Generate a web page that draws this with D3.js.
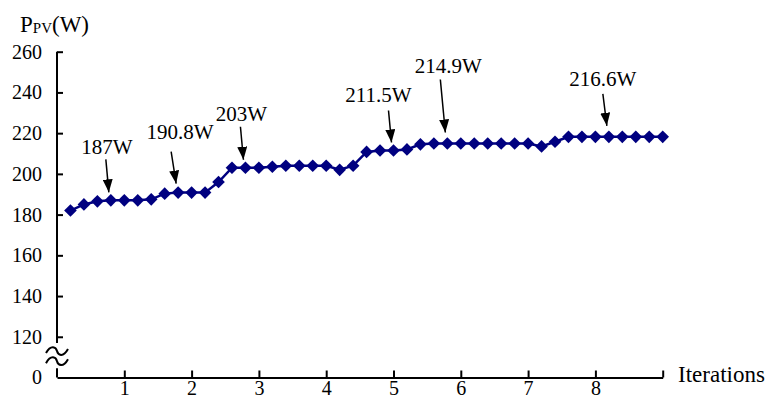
<!DOCTYPE html>
<html>
<head>
<meta charset="utf-8">
<script src="https://cdn.jsdelivr.net/npm/d3@7"></script>
<style>
  body { margin: 0; background: #fff; }
  text { font-family: "Liberation Serif", "Times New Roman", serif; fill: #000; }
</style>
</head>
<body>
<div id="pv-chart"></div>
<script>
// Data
const iterations = [
  0.2, 0.4, 0.6, 0.8, 1.0, 1.2, 1.4, 1.6, 1.8, 2.0,
  2.2, 2.4, 2.6, 2.8, 3.0, 3.2, 3.4, 3.6, 3.8, 4.0,
  4.2, 4.4, 4.6, 4.8, 5.0, 5.2, 5.4, 5.6, 5.8, 6.0,
  6.2, 6.4, 6.6, 6.8, 7.0, 7.2, 7.4, 7.6, 7.8, 8.0,
  8.2, 8.4, 8.6, 8.8, 9.0
];
const powerValues = [
  182, 185, 186.5, 187, 187, 187, 187.5, 190.3, 190.8, 190.8,
  190.8, 196, 203, 203, 203, 203.5, 204, 204, 204, 204,
  202, 204, 210.8, 211.5, 211.5, 212, 214.5, 214.9, 214.9, 214.9,
  214.9, 214.9, 214.9, 214.9, 214.9, 213.5, 215.8, 218.2, 218.2, 218.2,
  218.2, 218.2, 218.2, 218.2, 218.2
];
const yTickValues = [100, 120, 140, 160, 180, 200, 220, 240, 260];
const yTickLabels = ["0", "120", "140", "160", "180", "200", "220", "240", "260"];
const xTickValues = [1, 2, 3, 4, 5, 6, 7, 8, 9];
const xTickLabels = ["1", "2", "3", "4", "5", "6", "7", "8", ""];
const calloutIters = [0.8, 1.8, 2.8, 5.0, 5.8, 8.2];
const calloutLabels = ["187W", "190.8W", "203W", "211.5W", "214.9W", "216.6W"];

// Callout layout (gap above point, arrow length, arrow lean, label shift, label gap)
const calloutLayout = [
  {gap: 8, len: 33, lean: -3, dx: 1, labelGap: 5},
  {gap: 9, len: 32, lean: -5, dx: 9, labelGap: 13},
  {gap: 8, len: 33, lean: -3, dx: 1, labelGap: 6},
  {gap: 8, len: 32, lean: -3, dx: -10, labelGap: 8},
  {gap: 11, len: 53, lean: -5, dx: 8, labelGap: 7},
  {gap: 11, len: 32, lean: -4, dx: 0, labelGap: 8}
];

const width = 769;
const height = 401;
const serif = '"Liberation Serif", "Times New Roman", serif';

const data = iterations.map((d, i) => ({iter: d, power: powerValues[i]}));

const svg = d3.select("#pv-chart")
  .append("svg")
    .attr("width", width)
    .attr("height", height)
    .attr("viewBox", `0 0 ${width} ${height}`);

// Scales
const xScale = d3.scaleLinear()
  .domain([0, 9])
  .range([57, 662.7]);

const yScale = d3.scaleLinear()
  .domain([100, 260])
  .range([377.5, 51.7]);

// Arrow head
svg.append("defs")
  .append("marker")
    .attr("id", "arrow-head")
    .attr("viewBox", "0 0 13 10")
    .attr("refX", 13)
    .attr("refY", 5)
    .attr("markerWidth", 13)
    .attr("markerHeight", 10)
    .attr("markerUnits", "userSpaceOnUse")
    .attr("orient", "auto")
  .append("path")
    .attr("d", "M0,0L13,5L0,10Z")
    .attr("fill", "#000");

// Y axis (broken between 0 and 120)
const leftAxis = d3.axisLeft(yScale)
  .tickValues(yTickValues)
  .tickFormat((d, i) => yTickLabels[i])
  .tickSizeInner(-6)
  .tickSizeOuter(0)
  .tickPadding(15);
const yAxis = svg.append("g")
  .attr("class", "axis-y")
  .attr("transform", `translate(${xScale(0)}, 0)`)
  .call(leftAxis)
  .attr("font-family", serif);
yAxis.select(".domain").remove();
yAxis.selectAll(".tick").filter(d => d === 100).select("line").remove();
yAxis.selectAll(".tick line").attr("stroke-width", 2);
yAxis.selectAll("text")
  .style("font-size", "20px");

const breakTop = yScale(117);
const breakBottom = yScale(104.5);
yAxis.append("line")
  .attr("y1", yScale(260)).attr("y2", breakTop)
  .attr("stroke", "#000").attr("stroke-width", 2);
yAxis.append("line")
  .attr("y1", breakBottom).attr("y2", yScale(100))
  .attr("stroke", "#000").attr("stroke-width", 2);

// Break marks
const tilde = (cy) => `M-11,${cy + 2} C-6,${cy - 7} -1,${cy - 4} 0,${cy} S6,${cy + 7} 11,${cy - 2}`;
[yScale(113), yScale(108)].forEach(cy => {
  yAxis.append("path")
    .attr("d", tilde(cy))
    .attr("fill", "none")
    .attr("stroke", "#000")
    .attr("stroke-width", 2);
});

// X axis
const bottomAxis = d3.axisBottom(xScale)
  .tickValues(xTickValues)
  .tickFormat((d, i) => xTickLabels[i])
  .tickSizeInner(-7)
  .tickSizeOuter(0)
  .tickPadding(3);
const xAxis = svg.append("g")
  .attr("class", "axis-x")
  .attr("transform", `translate(0, ${yScale(100)})`)
  .call(bottomAxis)
  .attr("font-family", serif);
xAxis.select(".domain").attr("stroke-width", 2);
xAxis.selectAll(".tick line").attr("stroke-width", 2);
xAxis.selectAll("text")
  .style("font-size", "20px");

svg.append("text")
  .attr("x", 678)
  .attr("y", yScale(100) + 4)
  .style("font-size", "23px")
  .text("Iterations");

// Y title
const title = svg.append("text")
  .attr("x", 20)
  .attr("y", 32)
  .style("font-size", "23px");
title.append("tspan").text("P");
title.append("tspan").attr("dy", 1).style("font-size", "15px").text("PV");
title.append("tspan").attr("dy", -1).text("(W)");

// Line
const lineGenerator = d3.line()
  .x(d => xScale(d.iter))
  .y(d => yScale(d.power));

svg.append("path")
  .attr("class", "pv-line")
  .attr("d", lineGenerator(data))
  .attr("fill", "none")
  .attr("stroke", "#000080")
  .attr("stroke-width", 2.5);

svg.append("g")
  .attr("class", "markers")
  .selectAll("path")
  .data(data)
  .join("path")
    .attr("d", d3.symbol(d3.symbolSquare, 80))
    .attr("transform", d => `translate(${xScale(d.iter)}, ${yScale(d.power)}) rotate(45)`)
    .attr("fill", "#000080");

// Callouts
const callouts = svg.append("g")
  .attr("class", "callouts")
  .selectAll("g")
  .data(calloutIters.map((it, i) => {
    const point = data.find(d => Math.abs(d.iter - it) < 1e-6);
    const lay = calloutLayout[i];
    const tipX = xScale(point.iter) - 2;
    const tipY = yScale(point.power) - lay.gap;
    return {
      label: calloutLabels[i],
      tipX, tipY,
      startX: tipX + lay.lean,
      startY: tipY - lay.len,
      labelX: tipX + lay.lean + lay.dx,
      labelY: tipY - lay.len - lay.labelGap
    };
  }))
  .join("g");

callouts.append("line")
  .attr("x1", d => d.startX)
  .attr("y1", d => d.startY)
  .attr("x2", d => d.tipX)
  .attr("y2", d => d.tipY)
  .attr("stroke", "#000")
  .attr("stroke-width", 1.5)
  .attr("marker-end", "url(#arrow-head)");

callouts.append("text")
  .attr("x", d => d.labelX)
  .attr("y", d => d.labelY)
  .attr("text-anchor", "middle")
  .style("font-size", "21px")
  .text(d => d.label);
</script>
</body>
</html>
